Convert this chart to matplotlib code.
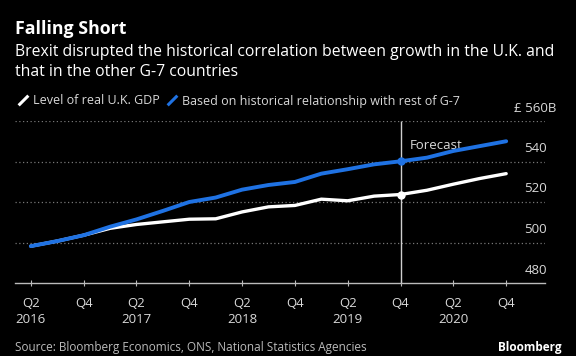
import matplotlib
matplotlib.use('Agg')
import matplotlib.pyplot as plt
import matplotlib.transforms as mtransforms
from matplotlib.lines import Line2D

plt.rcParams['font.family'] = ['Open Sans', 'DejaVu Sans']

# quarterly data, Q2 2016 .. Q4 2020
quarters = ['Q2\n2016', 'Q3', 'Q4', 'Q1', 'Q2\n2017', 'Q3', 'Q4', 'Q1', 'Q2\n2018', 'Q3', 'Q4', 'Q1',
            'Q2\n2019', 'Q3', 'Q4', 'Q1', 'Q2\n2020', 'Q3', 'Q4']
uk_gdp = [498.2, 500.7, 503.6, 507.0, 508.9, 510.2, 511.5, 511.7, 515.1, 517.6,
          518.3, 521.4, 520.6, 522.9, 523.7, 525.8, 528.8, 531.6, 534.0]
g7_based = [498.2, 500.7, 503.6, 507.8, 511.4, 515.6, 520.0, 522.2, 526.1, 528.4,
            529.9, 534.0, 536.2, 538.6, 540.1, 541.9, 545.2, 547.6, 550.0]
forecast_start = 14  # Q4 2019
y_ticks = [480, 500, 520, 540, 560]
y_labels = ['480', '500', '520', '540', '£ 560B']

BG = 'black'
BLUE = '#1f72e3'
TXT = '#d9d9d9'

fig = plt.figure(figsize=(5.76, 3.56), dpi=100, facecolor=BG)
ax = fig.add_axes([15 / 576, 1 - 283 / 356, 530 / 576, 162 / 356])
ax.set_facecolor(BG)

x = list(range(len(quarters)))
ax.plot(x, uk_gdp, color='white', lw=2.4, solid_capstyle='round', zorder=3)
ax.plot(x, g7_based, color=BLUE, lw=2.8, solid_capstyle='round', zorder=4)
ax.plot(forecast_start, uk_gdp[forecast_start], 'o', color='white', ms=5, zorder=5)
ax.plot(forecast_start, g7_based[forecast_start], 'o', color=BLUE, ms=5, zorder=5)

ax.set_xlim(-0.6, 19.47)
ax.set_ylim(480, 560)
ax.vlines(forecast_start, 480, 560, color='#cfcfcf', lw=1, zorder=2)
ax.text(forecast_start + 0.35, 548, 'Forecast', color=TXT, fontsize=9.5, va='center')

for v in y_ticks[1:]:
    ax.axhline(v, color='#777777', lw=0.9, ls=(0, (1, 2)), zorder=1)

for s in ['top', 'right', 'left']:
    ax.spines[s].set_visible(False)
ax.spines['bottom'].set_color('#bbbbbb')
ax.spines['bottom'].set_linewidth(1)

ax.set_yticks([])
tick_pos = x[::2]
ax.set_xticks(tick_pos)
ax.set_xticklabels([quarters[i] for i in tick_pos], color=TXT, fontsize=9.5, linespacing=1.35)
ax.tick_params(axis='x', colors='#bbbbbb', length=4, direction='inout', pad=8, labelcolor=TXT)

trans = mtransforms.blended_transform_factory(ax.transAxes, ax.transData)
trans = trans + mtransforms.ScaledTranslation(0, 13 / 100, fig.dpi_scale_trans)
for v, lab in zip(y_ticks, y_labels):
    ax.text(0.982, v, lab, transform=trans, color=TXT, fontsize=9.5, ha='center', va='center')

fig.text(15 / 576, 1 - 29 / 356, 'Falling Short', color='white', fontsize=12.8,
         fontweight='bold', va='center')
fig.text(15 / 576, 1 - 62 / 356,
         'Brexit disrupted the historical correlation between growth in the U.K. and\n'
         'that in the other G-7 countries',
         color='white', fontsize=11.3, va='center', linespacing=1.3)

slash = [(-1, -1), (1, 1)]
handles = [Line2D([], [], ls='none', marker=slash, ms=7, mew=2.2, color='white'),
           Line2D([], [], ls='none', marker=slash, ms=7, mew=2.2, color=BLUE)]
fig.legend(handles, ['Level of real U.K. GDP', 'Based on historical relationship with rest of G-7'],
           loc='center left', bbox_to_anchor=(6 / 576, 1 - 101 / 356), ncol=2, frameon=False,
           handlelength=0.9, handletextpad=0.35, columnspacing=0.5, fontsize=9.0,
           labelcolor=TXT)

fig.text(15 / 576, 1 - 347 / 356, 'Source: Bloomberg Economics, ONS, National Statistics Agencies',
         color='#bbbbbb', fontsize=8.5, va='center')
fig.text(562 / 576, 1 - 348 / 356, 'Bloomberg', color='white', fontsize=8.5,
         fontweight='bold', ha='right', va='center')

fig.savefig('out.png', dpi=100, facecolor=BG)
